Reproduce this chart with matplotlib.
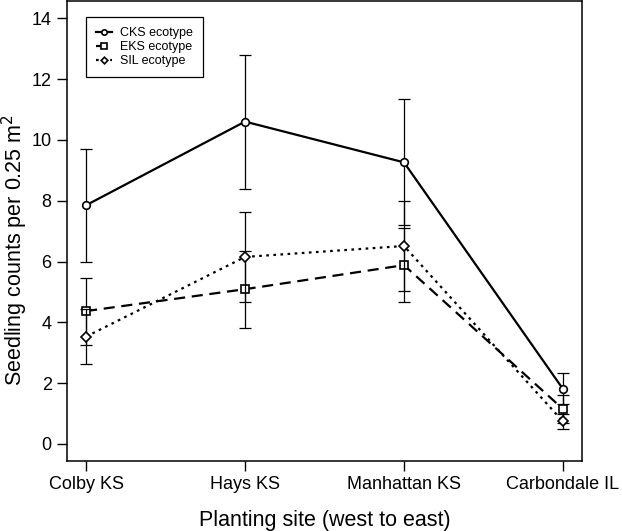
import numpy as np
import matplotlib
matplotlib.use("Agg")
import matplotlib.pyplot as plt

plt.rcParams['font.family'] = ['Liberation Sans', 'DejaVu Sans']

# data
sites = ["Colby KS", "Hays KS", "Manhattan KS", "Carbondale IL"]
cks_mean = [7.85, 10.6, 9.26, 1.81]
cks_se = [1.85, 2.2, 2.07, 0.51]
eks_mean = [4.37, 5.09, 5.88, 1.15]
eks_se = [1.1, 1.26, 1.22, 0.46]
sil_mean = [3.53, 6.15, 6.51, 0.74]
sil_se = [0.91, 1.48, 1.48, 0.24]

x = np.arange(1, len(sites) + 1)

fig = plt.figure(figsize=(6.22, 5.31), dpi=100)
ax = fig.add_axes([0.1077, 0.1318, 0.828, 0.866])

series = [
    ("CKS ecotype", cks_mean, cks_se, "o", "-"),
    ("EKS ecotype", eks_mean, eks_se, "s", (0, (5, 3))),
    ("SIL ecotype", sil_mean, sil_se, "D", (0, (1.2, 2))),
]
for label, m, se, mk, ls in series:
    ax.errorbar(x, m, yerr=se, fmt="none", ecolor="black", elinewidth=0.9,
                capsize=4.6, capthick=0.9)
    ax.plot(x, m, color="black", linestyle=ls, linewidth=1.6, marker=mk,
            markersize=5.5 if mk != "D" else 4.8, markerfacecolor="white",
            markeredgecolor="black", markeredgewidth=1.2, label=label)

ax.set_xlim(0.88, 4.12)
ax.set_ylim(-0.56, 14.56)
ax.set_xticks(x)
ax.set_xticklabels(sites)
ax.set_yticks([0, 2, 4, 6, 8, 10, 12, 14])
ax.tick_params(direction="out", length=7, width=1, labelsize=13, pad=4)
for s in ax.spines.values():
    s.set_linewidth(1.1)

ax.set_xlabel("Planting site (west to east)", fontsize=15.5, labelpad=12)
ax.set_ylabel("Seedling counts per 0.25 m$^2$", fontsize=15.5, va="center")
ax.yaxis.set_label_coords(-0.101, 0.459)

leg = ax.legend(loc="upper left", bbox_to_anchor=(0.037, 0.965), fontsize=9,
                fancybox=False, edgecolor="black", framealpha=1,
                handlelength=1.3, handletextpad=0.6, borderpad=0.8,
                labelspacing=0.15, borderaxespad=0, markerscale=0.7)
leg.get_frame().set_linewidth(0.9)

fig.savefig("out.png", dpi=100)
